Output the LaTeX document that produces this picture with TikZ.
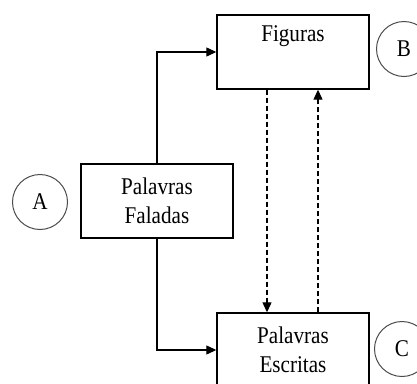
\documentclass[tikz,border=0pt]{standalone}
\usepackage{fontspec}
\newfontfamily\diagfont[FakeStretch=0.88]{Liberation Serif}
\usetikzlibrary{arrows.meta}
\begin{document}
\begin{tikzpicture}[x=1pt,y=-1pt,
  box/.style={draw=black,line width=1.4pt,minimum width=152pt,minimum height=74pt,inner sep=0pt,align=center,font=\diagfont\fontsize{24}{29}\selectfont},
  tag/.style={draw=black!70,line width=1pt,circle,minimum size=55pt,inner sep=0pt,font=\diagfont\fontsize{24}{29}\selectfont},
  conn/.style={line width=1.2pt,-{Triangle[length=10pt,width=9pt]}},
  dconn/.style={conn,dash pattern=on 5pt off 3pt}]
\useasboundingbox (0,0) rectangle (417,383);
\fill[white] (0,0) rectangle (417,383);
\begin{scope}
\clip (0,0) rectangle (417,383);
\node[box] (fig) at (293,52) {Figuras\\\strut};
\node[box] (fal) at (157,201) {Palavras\\Faladas};
\node[box] (esc) at (293,350) {Palavras\\Escritas};
\node[tag] (A) at (40,202) {A};
\node[tag] (B) at (404,49) {B};
\node[tag] (C) at (402,349) {C};
\draw[conn] (fal.north) |- (fig.west);
\draw[conn] (fal.south) |- (esc.west);
\draw[dconn] ([xshift=-26pt]fig.south) -- ([xshift=-26pt]esc.north);
\draw[dconn] ([xshift=25pt]esc.north) -- ([xshift=25pt]fig.south);
\end{scope}
\end{tikzpicture}
\end{document}
